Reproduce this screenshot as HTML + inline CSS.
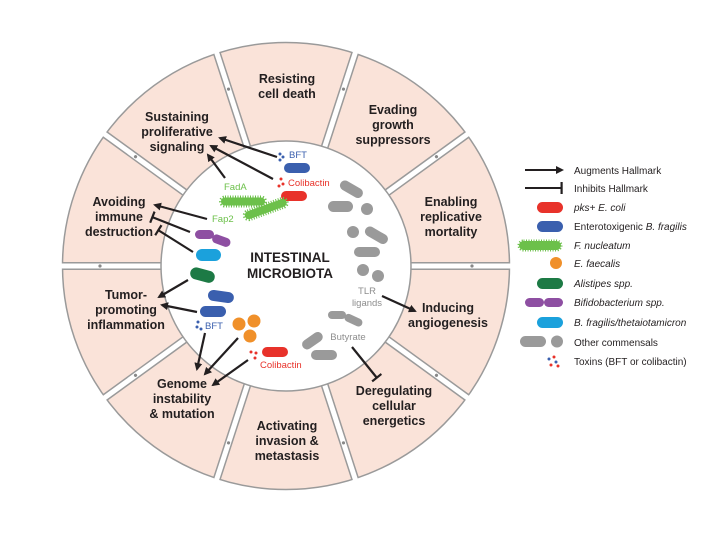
<!DOCTYPE html>
<html><head><meta charset="utf-8"><style>
html,body{margin:0;padding:0;background:#fff;}
svg{display:block;font-family:"Liberation Sans",Arial,sans-serif;}
.h{font-weight:bold;font-size:12.5px;fill:#231f20;text-anchor:middle;}
.lg{font-size:10px;fill:#231f20;}
.it{font-style:italic;}
</style></head><body>
<svg width="720" height="540" viewBox="0 0 720 540" xmlns="http://www.w3.org/2000/svg">
<defs>
<marker id="ar" markerWidth="8" markerHeight="8" refX="6" refY="4" orient="auto" markerUnits="userSpaceOnUse"><path d="M0,0 L8,4 L0,8 z" fill="#231f20"/></marker>
<marker id="tb" markerWidth="4" markerHeight="12" refX="2" refY="6" orient="auto" markerUnits="userSpaceOnUse"><rect x="0.5" y="0" width="2.2" height="12" fill="#231f20"/></marker>
</defs>
<rect width="720" height="540" fill="#fff"/>
<g transform="translate(286,266)">
<circle r="223.5" fill="#fae3d9" stroke="#9a9a9a" stroke-width="1.5"/>
<g stroke-linecap="butt">
<g id="gap"><line x1="122" y1="0" x2="223.5" y2="0" stroke="#9a9a9a" stroke-width="8"/><line x1="120" y1="0" x2="225" y2="0" stroke="#fff" stroke-width="5"/><circle cx="186" cy="0" r="1.6" fill="#888"/></g>
<use href="#gap" transform="rotate(36)"/><use href="#gap" transform="rotate(72)"/><use href="#gap" transform="rotate(108)"/><use href="#gap" transform="rotate(144)"/><use href="#gap" transform="rotate(180)"/><use href="#gap" transform="rotate(216)"/><use href="#gap" transform="rotate(252)"/><use href="#gap" transform="rotate(288)"/><use href="#gap" transform="rotate(324)"/>
</g>
<circle r="125" fill="#fff" stroke="#9a9a9a" stroke-width="1.5"/>
</g>
<text class="h" x="287" y="83">Resisting<tspan x="287" dy="15">cell death</tspan></text>
<text class="h" x="393" y="114">Evading<tspan x="393" dy="15">growth</tspan><tspan x="393" dy="15">suppressors</tspan></text>
<text class="h" x="451" y="206">Enabling<tspan x="451" dy="15">replicative</tspan><tspan x="451" dy="15">mortality</tspan></text>
<text class="h" x="448" y="312">Inducing<tspan x="448" dy="15">angiogenesis</tspan></text>
<text class="h" x="394" y="395">Deregulating<tspan x="394" dy="15">cellular</tspan><tspan x="394" dy="15">energetics</tspan></text>
<text class="h" x="287" y="430">Activating<tspan x="287" dy="15">invasion &amp;</tspan><tspan x="287" dy="15">metastasis</tspan></text>
<text class="h" x="182" y="388">Genome<tspan x="182" dy="15">instability</tspan><tspan x="182" dy="15">&amp; mutation</tspan></text>
<text class="h" x="126" y="299">Tumor-<tspan x="126" dy="15">promoting</tspan><tspan x="126" dy="15">inflammation</tspan></text>
<text class="h" x="119" y="206">Avoiding<tspan x="119" dy="15">immune</tspan><tspan x="119" dy="15">destruction</tspan></text>
<text class="h" x="177" y="121">Sustaining<tspan x="177" dy="15">proliferative</tspan><tspan x="177" dy="15">signaling</tspan></text>
<text class="h" x="290" y="262" style="font-size:13.5px">INTESTINAL<tspan x="290" dy="16">MICROBIOTA</tspan></text>
<g fill="#3a5fae"><circle cx="280" cy="154" r="1.5"/><circle cx="283" cy="157" r="1.5"/><circle cx="280" cy="160" r="1.5"/></g>
<text x="289" y="158" font-size="9.5" fill="#3a5fae">BFT</text>
<rect x="284" y="163" width="26" height="10" rx="5" fill="#3a5fae"/>
<g fill="#e8322a"><circle cx="281" cy="179" r="1.5"/><circle cx="283" cy="184" r="1.5"/><circle cx="279" cy="186" r="1.5"/></g>
<text x="288" y="186" font-size="9.5" fill="#e8322a">Colibactin</text>
<rect x="281" y="191" width="26" height="10" rx="5" fill="#e8322a"/>
<text x="224" y="190" font-size="9.5" fill="#6cc04a">FadA</text>
<rect x="221" y="197.5" width="44" height="8" rx="4" fill="#6cc04a" stroke="#6cc04a" stroke-width="4" stroke-dasharray="1 1.5"/>
<rect x="241" y="197.5" width="44" height="8" rx="4" fill="#6cc04a" stroke="#6cc04a" stroke-width="4" stroke-dasharray="1 1.5" transform="rotate(-20 263 201.5) translate(0 8)"/>
<text x="212" y="222" font-size="9.5" fill="#6cc04a">Fap2</text>
<rect x="195" y="230" width="19" height="9" rx="4.5" fill="#8e4fa2"/>
<rect x="212" y="236" width="19" height="9" rx="4.5" fill="#8e4fa2" transform="rotate(20 221 240)"/>
<rect x="196" y="249" width="25" height="12" rx="6" fill="#1ba1dc"/>
<rect x="190" y="269" width="25" height="12" rx="6" fill="#1d7a45" transform="rotate(15 202 275)"/>
<rect x="208" y="291" width="26" height="11" rx="5.5" fill="#3a5fae" transform="rotate(8 221 296)"/>
<rect x="200" y="306" width="26" height="11" rx="5.5" fill="#3a5fae"/>
<g fill="#3a5fae"><circle cx="198" cy="322" r="1.5"/><circle cx="197" cy="327" r="1.5"/><circle cx="201" cy="329" r="1.5"/></g>
<text x="205" y="329" font-size="9.5" fill="#3a5fae">BFT</text>
<g fill="#f0902a"><circle cx="239" cy="324" r="6.5"/><circle cx="254" cy="321" r="6.5"/><circle cx="250" cy="336" r="6.5"/></g>
<rect x="262" y="347" width="26" height="10" rx="5" fill="#e8322a"/>
<g fill="#e8322a"><circle cx="251" cy="352" r="1.5"/><circle cx="256" cy="353" r="1.5"/><circle cx="255" cy="358" r="1.5"/></g>
<text x="260" y="368" font-size="9.5" fill="#e8322a">Colibactin</text>
<g fill="#9a9a9a">
<rect x="339" y="184" width="25" height="10" rx="5" transform="rotate(30 351 189)"/>
<rect x="328" y="201" width="25" height="11" rx="5.5"/>
<circle cx="367" cy="209" r="6"/>
<circle cx="353" cy="232" r="6"/>
<rect x="364" y="230" width="25" height="10" rx="5" transform="rotate(30 376 235)"/>
<rect x="354" y="247" width="26" height="10" rx="5"/>
<circle cx="363" cy="270" r="6"/><circle cx="378" cy="276" r="6"/>
<rect x="328" y="311" width="18" height="8" rx="4"/>
<rect x="344" y="316" width="19" height="8" rx="4" transform="rotate(25 353 320)"/>
<rect x="301" y="336" width="23" height="10" rx="5" transform="rotate(-35 312 341)"/>
<rect x="311" y="350" width="26" height="10" rx="5"/>
</g>
<text x="367" y="294" font-size="9.5" fill="#8e8e8e" text-anchor="middle">TLR<tspan x="367" dy="12">ligands</tspan></text>
<text x="348" y="340" font-size="9.5" fill="#8e8e8e" text-anchor="middle">Butyrate</text>
<g stroke="#231f20" stroke-width="2.2" fill="none">
<line x1="277" y1="157" x2="220" y2="138" marker-end="url(#ar)"/>
<line x1="273" y1="179" x2="211" y2="146" marker-end="url(#ar)"/>
<line x1="225" y1="178" x2="208" y2="155" marker-end="url(#ar)"/>
<line x1="207" y1="219" x2="155" y2="205" marker-end="url(#ar)"/>
<line x1="190" y1="232" x2="152" y2="217" marker-end="url(#tb)"/>
<line x1="193" y1="252" x2="158" y2="230" marker-end="url(#tb)"/>
<line x1="188" y1="280" x2="159" y2="297" marker-end="url(#ar)"/>
<line x1="197" y1="312" x2="162" y2="305" marker-end="url(#ar)"/>
<line x1="205" y1="333" x2="197" y2="369" marker-end="url(#ar)"/>
<line x1="238" y1="338" x2="205" y2="374" marker-end="url(#ar)"/>
<line x1="248" y1="360" x2="213" y2="385" marker-end="url(#ar)"/>
<line x1="382" y1="296" x2="415" y2="311" marker-end="url(#ar)"/>
<line x1="352" y1="347" x2="377" y2="378" marker-end="url(#tb)"/>
</g>
<g stroke="#231f20" stroke-width="2">
<line x1="525" y1="170" x2="562" y2="170" marker-end="url(#ar)"/>
<line x1="525" y1="188" x2="562" y2="188" marker-end="url(#tb)"/>
</g>
<rect x="537" y="202" width="26" height="11" rx="5.5" fill="#e8322a"/>
<rect x="537" y="221" width="26" height="11" rx="5.5" fill="#3a5fae"/>
<rect x="519" y="241" width="42" height="9" rx="4.5" fill="#6cc04a" stroke="#6cc04a" stroke-width="3" stroke-dasharray="1 1.5"/>
<circle cx="556" cy="263" r="6" fill="#f0902a"/>
<rect x="537" y="278" width="26" height="11" rx="5.5" fill="#1d7a45"/>
<rect x="525" y="298" width="19" height="9" rx="4.5" fill="#8e4fa2"/>
<rect x="544" y="298" width="19" height="9" rx="4.5" fill="#8e4fa2"/>
<rect x="537" y="317" width="26" height="11" rx="5.5" fill="#1ba1dc"/>
<rect x="520" y="336" width="26" height="11" rx="5.5" fill="#9a9a9a"/>
<circle cx="557" cy="341.5" r="6" fill="#9a9a9a"/>
<g><circle cx="554" cy="357" r="1.5" fill="#e8322a"/><circle cx="549" cy="359" r="1.5" fill="#3a5fae"/><circle cx="556" cy="362" r="1.5" fill="#3a5fae"/><circle cx="551" cy="365" r="1.5" fill="#e8322a"/><circle cx="558" cy="366" r="1.5" fill="#e8322a"/></g>
<text class="lg" x="574" y="174">Augments Hallmark</text>
<text class="lg" x="574" y="192">Inhibits Hallmark</text>
<text class="lg it" x="574" y="211">pks+ E. coli</text>
<text class="lg" x="574" y="230">Enterotoxigenic <tspan class="it">B. fragilis</tspan></text>
<text class="lg it" x="574" y="249">F. nucleatum</text>
<text class="lg it" x="574" y="267">E. faecalis</text>
<text class="lg it" x="574" y="287">Alistipes spp.</text>
<text class="lg it" x="574" y="306">Bifidobacterium spp.</text>
<text class="lg it" x="574" y="326">B. fragilis/thetaiotamicron</text>
<text class="lg" x="574" y="346">Other commensals</text>
<text class="lg" x="574" y="365">Toxins (BFT or colibactin)</text>
</svg>
</body></html>
